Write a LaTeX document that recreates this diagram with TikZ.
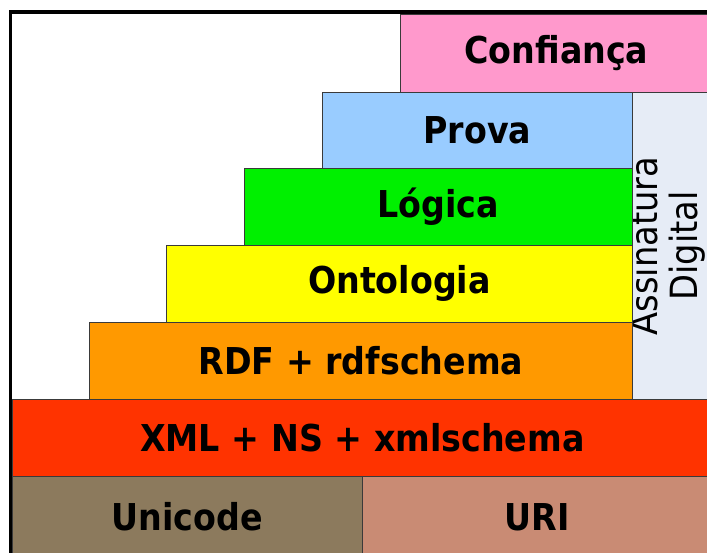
\documentclass[tikz,border=0pt]{standalone}
\usepackage{fontspec}
\setmainfont{DejaVu Sans Condensed}
\definecolor{cPink}{HTML}{FF99CC}
\definecolor{cBlue}{HTML}{99CCFF}
\definecolor{cGreen}{HTML}{00F000}
\definecolor{cYellow}{HTML}{FFFF00}
\definecolor{cOrange}{HTML}{FF9900}
\definecolor{cRed}{HTML}{FF3300}
\definecolor{cBrown}{HTML}{8C7A5D}
\definecolor{cRose}{HTML}{C98B74}
\definecolor{cPale}{HTML}{E6ECF6}
\definecolor{cEdge}{HTML}{3A3A3A}
\tikzset{
  layer/.style={draw=cEdge, line width=0.8pt, anchor=north west, inner sep=0pt,
    font=\fontsize{37}{40}\selectfont\bfseries},
  sidetext/.style={rotate=90, align=center, inner sep=0pt,
    font=\fontsize{37.5}{40}\selectfont}
}
\newcommand{\layerbox}[7]{% name, colour, x1, y1, x2, y2, text
  \node[layer, fill=#2, minimum width=#5pt-#3pt, minimum height=#6pt-#4pt] (#1) at (#3,#4) {#7};}
\begin{document}
\begin{tikzpicture}[x=1pt,y=-1pt]
  \useasboundingbox (0,0) rectangle (707,552);
  \fill[white] (0,0) rectangle (707,552);
  % stacked layers
  \layerbox{uri}{cRose}{362}{476}{712}{557}{URI}
  \layerbox{unicode}{cBrown}{12}{476}{362}{557}{Unicode}
  \layerbox{xml}{cRed}{12}{399}{712}{476}{XML + NS + xmlschema}
  \node[layer, fill=cPale, minimum width=80pt, minimum height=307pt] (sig) at (632,92) {};
  \node[sidetext] (sigtext) at (667.5,246) {Assinatura\\Digital};
  \layerbox{rdf}{cOrange}{89}{322}{632}{399}{RDF + rdfschema}
  \layerbox{onto}{cYellow}{166}{245}{632}{322}{Ontologia}
  \layerbox{logic}{cGreen}{244}{168}{632}{245}{Lógica}
  \layerbox{proof}{cBlue}{322}{92}{632}{168}{Prova}
  \layerbox{trust}{cPink}{400}{14}{712}{92}{Confiança}
  % outer frame (top and left edges)
  \draw[black, line width=3.5pt] (10.5,560) -- (10.5,12) -- (720,12);
\end{tikzpicture}
\end{document}
